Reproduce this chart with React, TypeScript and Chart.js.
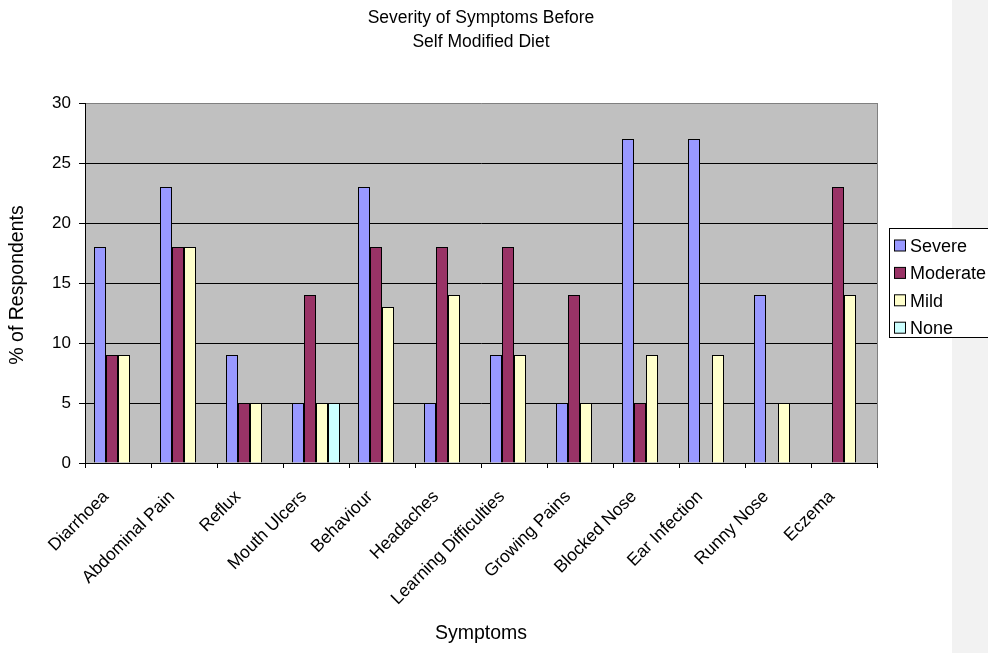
import React, { useEffect, useRef } from "react";
import { Chart, registerables } from "chart.js";

Chart.register(...registerables);

const symptoms = [
  "Diarrhoea",
  "Abdominal Pain",
  "Reflux",
  "Mouth Ulcers",
  "Behaviour",
  "Headaches",
  "Learning Difficulties",
  "Growing Pains",
  "Blocked Nose",
  "Ear Infection",
  "Runny Nose",
  "Eczema",
];

const severe = [18, 23, 9, 5, 23, 5, 9, 5, 27, 27, 14, null];
const moderate = [9, 18, 5, 14, 18, 18, 18, 14, 5, null, null, 23];
const mild = [9, 18, 5, 5, 13, 14, 9, 5, 9, 9, 5, 14];
const none = [null, null, null, 5, null, null, null, null, null, null, null, null];

const seriesNames = ["Severe", "Moderate", "Mild", "None"];
const seriesColors = ["#9999FF", "#993366", "#FFFFCC", "#CCFFFF"];

const yMin = 0;
const yMax = 30;
const yStep = 5;

const titleLines = ["Severity of Symptoms Before", "Self Modified Diet"];
const xTitle = "Symptoms";
const yTitle = "% of Respondents";

const FONT = "Arial, 'Liberation Sans', sans-serif";
const W = 988;
const H = 653;

const decorPlugin = {
  id: "excelDecor",
  beforeDraw(chart: any) {
    const { ctx, chartArea } = chart;
    ctx.save();
    ctx.fillStyle = "#FFFFFF";
    ctx.fillRect(0, 0, W, H);
    // side panel on the right
    ctx.fillStyle = "#F2F2F2";
    ctx.fillRect(952, 0, W - 952, H);
    // plot background
    ctx.fillStyle = "#C0C0C0";
    ctx.fillRect(
      chartArea.left,
      chartArea.top,
      chartArea.right - chartArea.left,
      chartArea.bottom - chartArea.top
    );
    ctx.restore();
  },
  afterDraw(chart: any) {
    const { ctx, chartArea } = chart;
    const xScale = chart.scales.x;
    ctx.save();
    // plot frame on the right
    ctx.strokeStyle = "#808080";
    ctx.lineWidth = 1;
    ctx.beginPath();
    ctx.moveTo(chartArea.right + 0.5, chartArea.top);
    ctx.lineTo(chartArea.right + 0.5, chartArea.bottom);
    ctx.stroke();

    // slanted category labels
    ctx.fillStyle = "#000000";
    ctx.font = `17.5px ${FONT}`;
    ctx.textAlign = "right";
    ctx.textBaseline = "middle";
    (chart.data.labels as string[]).forEach((label, i) => {
      const x = xScale.getPixelForValue(i);
      ctx.save();
      ctx.translate(x - 12, chartArea.bottom + 31);
      ctx.rotate(-Math.PI / 4);
      ctx.fillText(label, 0, 0);
      ctx.restore();
    });

    const cx = (chartArea.left + chartArea.right) / 2;
    ctx.textAlign = "center";
    ctx.textBaseline = "middle";
    ctx.font = `17.5px ${FONT}`;
    ctx.fillText(titleLines[0], cx, 18);
    ctx.fillText(titleLines[1], cx, 42);

    ctx.font = `19.5px ${FONT}`;
    ctx.fillText(xTitle, cx, 634);
    ctx.save();
    ctx.translate(18, (chartArea.top + chartArea.bottom) / 2 + 2);
    ctx.rotate(-Math.PI / 2);
    ctx.fillText(yTitle, 0, 0);
    ctx.restore();

    // legend
    const lx = 889;
    const ly = 228;
    const lh = 109;
    ctx.fillStyle = "#FFFFFF";
    ctx.fillRect(lx, ly, W - lx + 2, lh);
    ctx.strokeStyle = "#000000";
    ctx.strokeRect(lx + 0.5, ly + 0.5, W - lx + 2, lh);
    ctx.font = `18px ${FONT}`;
    ctx.textAlign = "left";
    chart.data.datasets.forEach((ds: any, i: number) => {
      const y = ly + 18.5 + i * 27.4;
      ctx.fillStyle = ds.backgroundColor;
      ctx.fillRect(894.5, y - 6.5, 11, 11);
      ctx.strokeStyle = "#000000";
      ctx.strokeRect(894.5, y - 6.5, 11, 11);
      ctx.fillStyle = "#000000";
      ctx.fillText(ds.label, 910, y + 0.5);
    });
    ctx.restore();
  },
};

export default function App() {
  const ref = useRef<HTMLCanvasElement | null>(null);

  useEffect(() => {
    if (!ref.current) return;
    const seriesData = [severe, moderate, mild, none];
    const chart = new Chart(ref.current, {
      type: "bar",
      data: {
        labels: symptoms,
        datasets: seriesNames.map((name, i) => ({
          label: name,
          data: seriesData[i],
          backgroundColor: seriesColors[i],
          borderColor: "#000000",
          borderWidth: 1,
          barPercentage: 1,
          categoryPercentage: 4 / 5.5,
        })),
      },
      options: {
        responsive: false,
        animation: false,
        devicePixelRatio: 1,
        layout: { padding: { left: 0, top: 103, right: W - 877, bottom: 0 } },
        plugins: {
          legend: { display: false },
          title: { display: false },
          tooltip: { enabled: false },
        },
        scales: {
          x: {
            offset: true,
            afterFit: (scale: any) => {
              scale.height = 190;
            },
            grid: {
              offset: true,
              drawOnChartArea: false,
              drawTicks: true,
              tickLength: 5,
              color: "#000000",
            },
            border: { color: "#000000", width: 1 },
            ticks: {
              display: false,
              autoSkip: false,
            },
          },
          y: {
            min: yMin,
            max: yMax,
            afterFit: (scale: any) => {
              scale.width = 85;
            },
            grid: {
              color: (c: any) => (c.tick && c.tick.value === yMax ? "#808080" : "#000000"),
              drawTicks: true,
              tickLength: 6,
              tickColor: "#000000",
            },
            border: { color: "#000000", width: 1 },
            ticks: {
              stepSize: yStep,
              padding: 8,
              color: "#000000",
              font: { family: FONT, size: 17 },
            },
          },
        },
      },
      plugins: [decorPlugin],
    } as any);
    return () => chart.destroy();
  }, []);

  return (
    <div style={{ position: "absolute", left: 0, top: 0, width: W, height: H }}>
      <canvas ref={ref} width={W} height={H} style={{ display: "block", width: W, height: H }} />
    </div>
  );
}
